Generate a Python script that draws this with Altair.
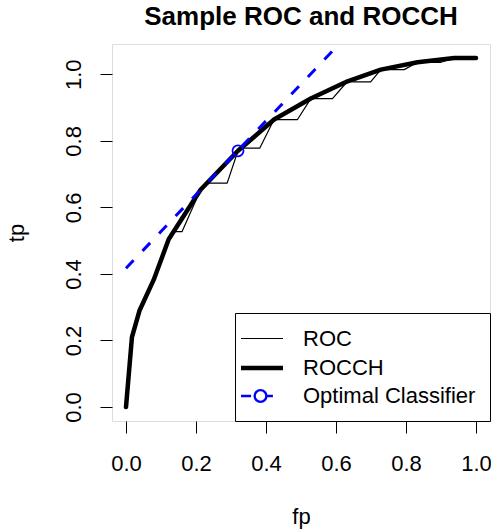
import altair as alt
import pandas as pd

# ---- data ----
roc_fp = [0.0, 0.017, 0.039, 0.079, 0.122, 0.136, 0.160, 0.213, 0.236, 0.289,
          0.320, 0.332, 0.382, 0.423, 0.432, 0.490, 0.528, 0.542, 0.590, 0.633,
          0.651, 0.699, 0.728, 0.747, 0.795, 0.833, 0.900, 0.938, 1.0]
roc_tp = [0.0, 0.210, 0.291, 0.382, 0.504, 0.527, 0.527, 0.653, 0.673, 0.673,
          0.770, 0.778, 0.778, 0.864, 0.864, 0.864, 0.927, 0.927, 0.927, 0.979,
          0.977, 0.977, 1.014, 1.014, 1.014, 1.036, 1.036, 1.049, 1.049]

hull_fp = [0.0, 0.017, 0.039, 0.079, 0.122, 0.213, 0.320, 0.423, 0.528, 0.633,
           0.728, 0.833, 0.938, 1.0]
hull_tp = [0.0, 0.210, 0.291, 0.382, 0.504, 0.653, 0.770, 0.864, 0.927, 0.979,
           1.014, 1.036, 1.049, 1.049]

iso_fp = [0.0, 0.6]
iso_tp = [0.417, 1.081]

opt_fp = [0.32]
opt_tp = [0.77]

series_names = ["ROC", "ROCCH", "Optimal Classifier"]
tick_values = [0.0, 0.2, 0.4, 0.6, 0.8, 1.0]

FONT = "Liberation Sans"
FS = 22

roc_df = pd.DataFrame({"fp": roc_fp, "tp": roc_tp, "order": range(len(roc_fp))})
hull_df = pd.DataFrame({"fp": hull_fp, "tp": hull_tp, "order": range(len(hull_fp))})
iso_df = pd.DataFrame({"fp": iso_fp, "tp": iso_tp, "order": range(len(iso_fp))})
opt_df = pd.DataFrame({"fp": opt_fp, "tp": opt_tp})
# legend-only rows, placed outside the visible domain (clipped away)
leg_df = pd.DataFrame({"series": series_names, "fp": [-1.0] * 3, "tp": [-1.0] * 3})

xscale = alt.Scale(domain=[-0.04, 1.04], nice=False, zero=False)
yscale = alt.Scale(domain=[-0.042, 1.091], nice=False, zero=False)

xaxis = alt.Axis(values=tick_values, format=".1f", title="fp", grid=False, domain=False,
                 tickSize=12, tickColor="black", labelPadding=20, labelFlush=False,
                 labelFontSize=FS, labelFont=FONT, labelColor="black",
                 titleFontSize=FS, titleFont=FONT, titleColor="black",
                 titleFontWeight="normal", titlePadding=32)
yaxis = alt.Axis(values=tick_values, format=".1f", title="tp", grid=False, domain=False,
                 tickSize=12, tickColor="black", labelPadding=20, labelFlush=False,
                 labelAngle=270, labelAlign="center", labelBaseline="alphabetic",
                 labelFontSize=FS, labelFont=FONT, labelColor="black",
                 titleFontSize=FS, titleFont=FONT, titleColor="black",
                 titleFontWeight="normal", titlePadding=34)

X = alt.X("fp:Q", scale=xscale, axis=xaxis)
Y = alt.Y("tp:Q", scale=yscale, axis=yaxis)

roc = alt.Chart(roc_df).mark_line(color="black", strokeWidth=1.2, clip=True,
                                  strokeJoin="round").encode(x=X, y=Y, order="order:Q")
hull = alt.Chart(hull_df).mark_line(color="black", strokeWidth=4.5, clip=True,
                                    strokeJoin="round", strokeCap="round").encode(
    x=X, y=Y, order="order:Q")
iso = alt.Chart(iso_df).mark_line(color="#0000ff", strokeWidth=3, strokeDash=[11, 13],
                                  clip=True).encode(x=X, y=Y, order="order:Q")
opt = alt.Chart(opt_df).mark_point(shape="circle", filled=False, color="#0000ff",
                                   size=121, strokeWidth=1.8, opacity=1).encode(x=X, y=Y)

# symbol paths drawn at half-unit scale (size 441 -> 10.5 px per unit)
line_path = "M-2,0H2"
opt_path = ("M-2,0H-1.04M0.44,0H1.04M0.42,0A0.56,0.56,0,1,1,-0.70,0"
            "A0.56,0.56,0,1,1,0.42,0")

legend = alt.Legend(title=None, orient="bottom-right", offset=0, padding=14,
                    rowPadding=5, symbolSize=441, labelFontSize=FS, labelFont=FONT,
                    labelColor="black", labelOffset=28, labelLimit=400,
                    strokeColor="black", fillColor="white")

leg = alt.Chart(leg_df).mark_point(filled=False, clip=True, opacity=1).encode(
    x=X, y=Y,
    color=alt.Color("series:N", legend=legend,
                    scale=alt.Scale(domain=series_names,
                                    range=["black", "black", "#0000ff"])),
    shape=alt.Shape("series:N", legend=legend,
                    scale=alt.Scale(domain=series_names,
                                    range=[line_path, line_path, opt_path])),
    strokeWidth=alt.StrokeWidth("series:N", legend=legend,
                                scale=alt.Scale(type="ordinal", domain=series_names,
                                                range=[1.2, 4.5, 2.4])),
)

chart = alt.layer(roc, hull, iso, opt, leg).properties(
    width=378, height=377,
    title=alt.Title("Sample ROC and ROCCH", fontSize=26, fontWeight="bold", font=FONT,
                    anchor="middle", baseline="alphabetic", offset=17, dy=24,
                    color="black"),
    autosize=alt.AutoSizeParams(type="none"),
    padding={"left": 112, "top": 44, "right": 1, "bottom": 109},
).configure_view(stroke="black", strokeWidth=1, fill="white").configure(background="white")

chart.save("out.html", embed_options={"renderer": "svg", "actions": False})
